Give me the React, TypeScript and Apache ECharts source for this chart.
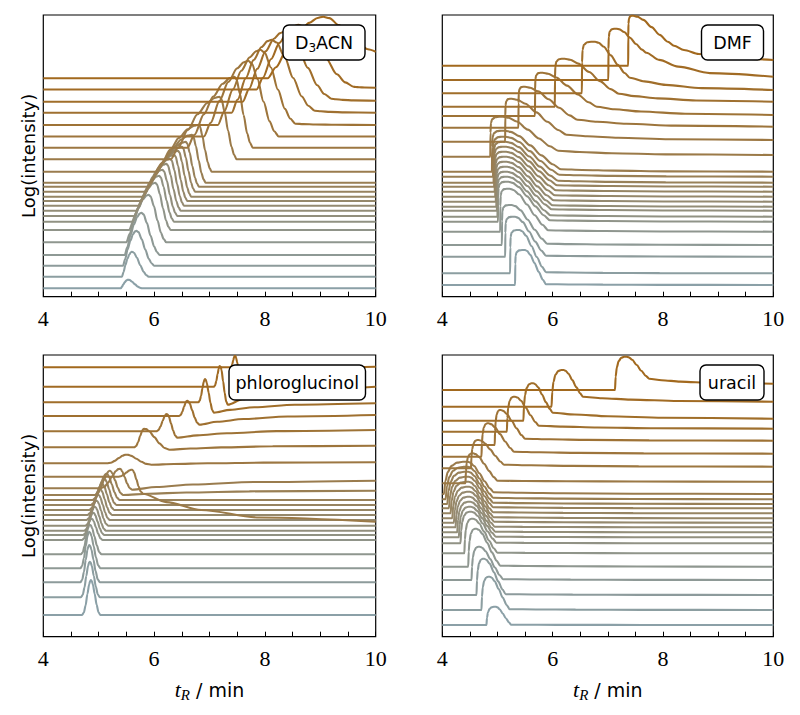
import React, { useEffect, useRef } from "react";
import * as echarts from "echarts";

// Retention time axis (min)
const X_MIN = 4;
const X_MAX = 10;
const X_TICK_LABELS = [4, 6, 8, 10];
const PANEL_NAMES = ["D3ACN", "DMF", "phloroglucinol", "uracil"];
const Y_AXIS_NAME = "Log(intensity)";

// Stacked traces, bottom to top. Offsets in stacked log-intensity units.
// Columns: [baseline, riseStart, apexTime, apexLevel, fallEnd, levelAfterFall, levelAt10min]
const D3ACN_TRACES = [
  [8.4, 5.4, 5.53, 17, 5.78, 8.4, 8.4],
  [20, 5.42, 5.6, 45, 5.9, 20, 20],
  [31, 5.44, 5.68, 66, 6.0, 31, 31],
  [41.7, 5.47, 5.77, 84, 6.1, 41.7, 41.7],
  [54.4, 5.5, 5.9, 102, 6.22, 54.4, 54.4],
  [66.7, 5.55, 6.02, 114, 6.3, 66.7, 66.7],
  [75, 5.6, 6.09, 121, 6.36, 75, 75],
  [80.7, 5.64, 6.15, 127, 6.42, 80.7, 80.7],
  [86, 5.68, 6.22, 133, 6.48, 86, 86],
  [91, 5.72, 6.29, 138, 6.54, 91, 91],
  [95.7, 5.76, 6.36, 142, 6.6, 95.7, 95.7],
  [100, 5.8, 6.43, 146, 6.67, 100, 100],
  [105, 5.84, 6.5, 150, 6.74, 105, 105],
  [110, 5.88, 6.57, 155, 6.81, 110, 110],
  [114, 5.92, 6.68, 162, 6.93, 114, 114],
  [125, 6.02, 6.8, 172, 7.04, 125, 125],
  [137.4, 6.3, 7.18, 200, 7.49, 137.4, 137.4],
  [149, 6.6, 7.45, 220, 7.78, 149, 149],
  [160.2, 6.9, 7.7, 236, 8.25, 160.2, 160.2],
  [171.7, 7.15, 7.92, 247, 8.55, 173, 171.7],
  [184, 7.4, 8.12, 257, 8.9, 186, 184],
  [195, 7.6, 8.35, 265, 9.2, 198, 196],
  [207.2, 7.85, 8.6, 272, 9.6, 210, 209],
  [218.4, 8.05, 9.05, 280, 10, 245, 245],
];

const DMF_TRACES = [
  [11.7, 5.32, 5.5, 46.7, 5.88, 12.5, 11.7],
  [23.4, 5.23, 5.4, 66.7, 5.88, 24.5, 23.4],
  [40, 5.14, 5.32, 80, 5.88, 41, 40],
  [51.7, 5.08, 5.26, 91.7, 5.9, 53, 51.7],
  [65, 5.05, 5.22, 108, 5.92, 66.5, 65],
  [75, 5.01, 5.2, 115, 5.95, 76.5, 75],
  [80, 5.0, 5.19, 120, 5.96, 81.5, 80],
  [86, 4.99, 5.18, 125, 5.98, 87.5, 86],
  [90, 4.98, 5.18, 130, 6.0, 91.5, 90],
  [95, 4.97, 5.17, 135, 6.02, 96.5, 95],
  [100, 4.96, 5.17, 140, 6.04, 101.5, 100],
  [105, 4.95, 5.16, 145, 6.06, 106.5, 105],
  [110, 4.94, 5.16, 150, 6.08, 111.5, 110],
  [114, 4.93, 5.15, 155, 6.1, 116, 114],
  [120, 4.92, 5.15, 160, 6.12, 122, 120],
  [125, 4.9, 5.14, 166, 6.15, 127.5, 125],
  [140, 4.87, 5.1, 180, 6.1, 146, 141.7],
  [155, 5.14, 5.26, 198, 6.25, 162, 156.7],
  [169, 5.38, 5.5, 210, 6.45, 177, 170],
  [180.7, 5.68, 5.82, 224, 6.8, 190, 181.7],
  [190, 6.04, 6.22, 238, 7.2, 203, 195],
  [203.4, 6.53, 6.77, 255, 7.4, 219, 206.7],
  [216.7, 7.01, 7.16, 268, 7.7, 244, 220],
  [231, 7.37, 7.46, 281, 8.2, 251, 236.7],
];

const PHLOROGLUCINOL_TRACES = [
  [21.7, 4.7, 4.86, 56.7, 5.03, 21.7, 21.7],
  [39.4, 4.68, 4.84, 75, 5.02, 39.4, 39.4],
  [54.4, 4.67, 4.83, 91.7, 5.02, 54.4, 54.4],
  [68.4, 4.67, 4.83, 105, 5.03, 68.4, 68.4],
  [82.4, 4.68, 4.84, 112, 5.05, 82.4, 82.4],
  [96.7, 4.7, 4.87, 118, 5.07, 96.7, 96.7],
  [101.7, 4.72, 4.9, 124, 5.1, 101.7, 101.7],
  [106, 4.74, 4.93, 130, 5.13, 106, 106],
  [111, 4.76, 4.96, 136, 5.17, 111, 111],
  [116.7, 4.78, 4.99, 142, 5.2, 116.7, 116.7],
  [121.7, 4.8, 5.02, 148, 5.24, 121.7, 121.7],
  [126.7, 4.83, 5.06, 153, 5.28, 126.7, 126.7],
  [131.7, 4.86, 5.1, 158, 5.32, 131.7, 131.7],
  [136.7, 4.89, 5.14, 163, 5.38, 136.7, 136.7],
  [141.7, 4.93, 5.2, 166, 5.44, 141.7, 146],
  [148.4, 5.03, 5.38, 168, 5.6, 147, 156],
  [160, 5.35, 5.6, 167, 5.8, 143, 115],
  [173.4, 5.15, 5.5, 182, 5.95, 172, 174.4],
  [189.4, 5.64, 5.82, 208, 6.28, 187, 191],
  [205.4, 6.04, 6.23, 222.7, 6.42, 199, 206.7],
  [220.7, 6.45, 6.6, 236, 6.82, 212, 221.7],
  [234.4, 6.8, 6.92, 257.7, 7.08, 224, 233.4],
  [250, 7.08, 7.19, 271, 7.33, 232, 250],
  [269.4, 7.38, 7.46, 281, 7.56, 264, 270],
];

const URACIL_TRACES = [
  [11.7, 4.8, 4.97, 30, 5.25, 12, 11.7],
  [26.7, 4.71, 4.86, 60, 5.22, 27.5, 26.7],
  [41.7, 4.62, 4.76, 78, 5.15, 42.5, 41.7],
  [56.7, 4.53, 4.68, 90, 5.1, 57.5, 56.7],
  [70, 4.47, 4.62, 108, 5.05, 71, 70],
  [83.4, 4.4, 4.56, 118, 5.0, 84, 83.4],
  [93.4, 4.33, 4.53, 125, 4.98, 94, 93.4],
  [99.4, 4.3, 4.52, 130, 4.97, 100, 99.4],
  [104.4, 4.27, 4.51, 135, 4.96, 105, 104.4],
  [109.4, 4.24, 4.5, 140, 4.95, 110, 109.4],
  [114, 4.21, 4.5, 145, 4.94, 115, 114],
  [118.4, 4.18, 4.49, 150, 4.93, 119.5, 118.4],
  [123.4, 4.15, 4.48, 155, 4.92, 124.5, 123.4],
  [128.4, 4.12, 4.48, 160, 4.92, 129.5, 128.4],
  [132.7, 4.09, 4.47, 165, 4.92, 134, 132.7],
  [137.4, 4.06, 4.47, 170, 4.92, 139, 137.4],
  [142.7, 4.03, 4.46, 175, 4.93, 144.5, 142.7],
  [153.4, 4.42, 4.56, 183.4, 5.0, 156, 155],
  [168.4, 4.52, 4.66, 196.7, 5.12, 172, 170],
  [180, 4.71, 4.84, 213.4, 5.3, 185, 183],
  [191.7, 4.95, 5.06, 226.7, 5.5, 198, 196],
  [205, 5.17, 5.32, 240, 5.75, 211, 208],
  [216, 5.47, 5.65, 253.4, 6.0, 224, 218],
  [230, 5.98, 6.2, 266.7, 6.55, 240, 235],
  [246.7, 7.13, 7.34, 280, 7.75, 258, 253],
];

// Normalised peak profiles [time fraction, height fraction]
const DIFFUSE_FRONT = [[0, 0], [0.15, 0.18], [0.35, 0.47], [0.55, 0.72], [0.75, 0.9], [0.9, 0.98], [1, 1]];
const SHARP_REAR = [[0, 1], [0.12, 0.96], [0.3, 0.76], [0.5, 0.46], [0.7, 0.2], [0.85, 0.07], [1, 0]];
const SHOCK_FRONT = [[0, 0], [0.015, 0.6], [0.05, 0.84], [0.15, 0.94], [0.4, 0.99], [0.7, 1], [1, 1]];
const STEEP_FRONT = [[0, 0], [0.06, 0.4], [0.16, 0.68], [0.32, 0.87], [0.55, 0.97], [0.8, 1], [1, 1]];
const TAILING_REAR = [[0, 1], [0.1, 0.97], [0.25, 0.86], [0.45, 0.62], [0.65, 0.36], [0.85, 0.13], [1, 0]];
const GAUSS_FRONT = [[0, 0], [0.2, 0.07], [0.4, 0.28], [0.6, 0.6], [0.8, 0.88], [0.92, 0.98], [1, 1]];
const GAUSS_REAR = [[0, 1], [0.08, 0.98], [0.2, 0.88], [0.4, 0.6], [0.6, 0.3], [0.8, 0.08], [1, 0]];
const BASELINE_TAIL = [[0, 0], [0.1, 0.3], [0.25, 0.58], [0.5, 0.85], [1, 1]];

const BOTTOM_RGB = [139, 160, 167];
const TOP_RGB = [162, 105, 30];

const PLOT_H = 281.7;
const SERIF = "'Liberation Serif', 'DejaVu Serif', serif";
const SANS = "'DejaVu Sans', sans-serif";

const PANELS = [
  { name: PANEL_NAMES[0], traces: D3ACN_TRACES, front: DIFFUSE_FRONT, rear: SHARP_REAR, left: 43.3, top: 15, width: 332.4, yName: true, xName: false, box: [283, 25, 82, 35] },
  { name: PANEL_NAMES[1], traces: DMF_TRACES, front: SHOCK_FRONT, rear: TAILING_REAR, left: 442.3, top: 15, width: 331, yName: false, xName: false, box: [701.5, 25, 62, 35] },
  { name: PANEL_NAMES[2], traces: PHLOROGLUCINOL_TRACES, front: GAUSS_FRONT, rear: GAUSS_REAR, left: 43.3, top: 355, width: 332.4, yName: true, xName: true, box: [229, 365, 136.5, 35] },
  { name: PANEL_NAMES[3], traces: URACIL_TRACES, front: STEEP_FRONT, rear: TAILING_REAR, left: 442.3, top: 355, width: 331, yName: false, xName: true, box: [700, 365, 64, 35] },
];

function tracePoints(row: number[], front: number[][], rear: number[][]) {
  const [b, ts, ta, va, te, p, f] = row;
  const pts: number[][] = [[X_MIN, b]];
  front.forEach(([u, v]) => pts.push([ts + u * (ta - ts), b + v * (va - b)]));
  rear.slice(1).forEach(([u, v]) => pts.push([ta + u * (te - ta), p + v * (va - p)]));
  if (te < X_MAX) {
    BASELINE_TAIL.slice(1).forEach(([u, v]) => pts.push([te + u * (X_MAX - te), p + v * (f - p)]));
  }
  return pts;
}

function traceColor(i: number, n: number) {
  const t = n > 1 ? i / (n - 1) : 0;
  const c = BOTTOM_RGB.map((lo, k) => Math.round(lo + (TOP_RGB[k] - lo) * t));
  return `rgb(${c[0]},${c[1]},${c[2]})`;
}

export default function App() {
  const ref = useRef<HTMLDivElement>(null);
  useEffect(() => {
    if (!ref.current) return;
    const chart = echarts.init(ref.current, undefined, { renderer: "svg" });
    const series: any[] = [];
    PANELS.forEach((panel, pi) => {
      const n = panel.traces.length;
      panel.traces.forEach((row, i) => {
        const color = traceColor(i, n);
        series.push({
          type: "line",
          xAxisIndex: pi,
          yAxisIndex: pi,
          data: tracePoints(row, panel.front, panel.rear),
          showSymbol: false,
          symbol: "none",
          smooth: 0.3,
          smoothMonotone: "x",
          silent: true,
          lineStyle: { width: 2.1, color },
          itemStyle: { color },
        });
      });
    });

    const graphic: any[] = [];
    PANELS.forEach((panel) => {
      const [bx, by, bw, bh] = panel.box;
      graphic.push({
        type: "rect",
        shape: { x: bx, y: by, width: bw, height: bh, r: 6 },
        style: { fill: "#fff", stroke: "#000", lineWidth: 1.4 },
        z: 100,
      });
      const isD3 = panel.name === "D3ACN";
      graphic.push({
        type: "text",
        x: bx + bw / 2,
        y: by + bh / 2,
        z: 101,
        style: {
          text: isD3 ? "{n|D}{s|3}{n|ACN}" : panel.name,
          textAlign: "center",
          textVerticalAlign: "middle",
          fontFamily: SANS,
          fontSize: 17.5,
          fill: "#000",
          rich: isD3
            ? {
                n: { fontFamily: SANS, fontSize: 17.5, lineHeight: 22, verticalAlign: "middle" },
                s: { fontFamily: SANS, fontSize: 12, lineHeight: 22, verticalAlign: "bottom" },
              }
            : undefined,
        },
      });
    });

    chart.setOption({
      animation: false,
      backgroundColor: "#fff",
      grid: PANELS.map((p) => ({
        left: p.left,
        top: p.top,
        width: p.width,
        height: PLOT_H,
        show: true,
        borderColor: "#000",
        borderWidth: 1.2,
        backgroundColor: "transparent",
      })),
      xAxis: PANELS.map((p, i) => ({
        type: "value",
        gridIndex: i,
        min: X_MIN,
        max: X_MAX,
        interval: 0.5,
        axisLine: { show: false },
        axisTick: { show: true, inside: true, length: 5, lineStyle: { color: "#000", width: 1 } },
        axisLabel: {
          formatter: (v: number) => (X_TICK_LABELS.includes(Math.round(v * 100) / 100) ? String(Math.round(v)) : ""),
          fontFamily: SERIF,
          fontSize: 22,
          color: "#000",
          margin: 11,
        },
        splitLine: { show: false },
        name: p.xName ? "{i|t}{s|R}{n| / min}" : "",
        nameLocation: "middle",
        nameGap: 40,
        nameTextStyle: {
          color: "#000",
          rich: {
            i: { fontFamily: SERIF, fontStyle: "italic", fontSize: 22, lineHeight: 26, verticalAlign: "middle" },
            s: { fontFamily: SERIF, fontStyle: "italic", fontSize: 15, lineHeight: 26, verticalAlign: "bottom" },
            n: { fontFamily: SANS, fontSize: 19, lineHeight: 26, verticalAlign: "middle" },
          },
        },
      })),
      yAxis: PANELS.map((p, i) => ({
        type: "value",
        gridIndex: i,
        min: 0,
        max: PLOT_H,
        axisLine: { show: false },
        axisTick: { show: false },
        axisLabel: { show: false },
        splitLine: { show: false },
        name: p.yName ? Y_AXIS_NAME : "",
        nameLocation: "middle",
        nameRotate: 90,
        nameGap: 6,
        nameTextStyle: { fontFamily: SANS, fontSize: 18, color: "#000" },
      })),
      series,
      graphic,
    });
    return () => chart.dispose();
  }, []);
  return <div ref={ref} style={{ position: "absolute", left: 0, top: 0, width: 800, height: 715 }} />;
}
